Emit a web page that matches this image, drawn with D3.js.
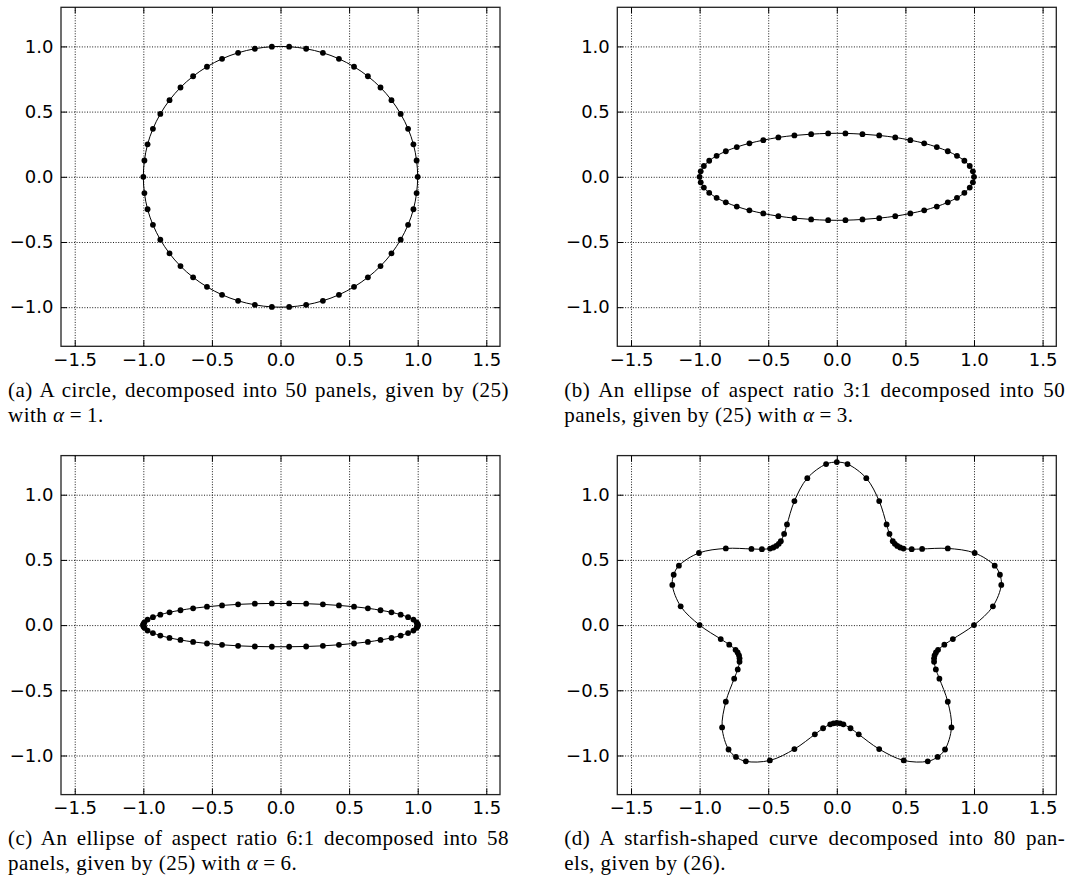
<!DOCTYPE html>
<html>
<head>
<meta charset="utf-8">
<title>Panel decompositions of four curves</title>
<script src="https://d3js.org/d3.v7.min.js"></script>
<style>
  body { margin: 0; background: #fff; }
</style>
</head>
<body>
<svg width="1070" height="876"></svg>
<script>
// tick values shared by all four panels
var xTicks = [-1.5, -1.0, -0.5, 0.0, 0.5, 1.0, 1.5];
var yTicks = [-1.0, -0.5, 0.0, 0.5, 1.0];

// (a) circle, 50 panel end points
var circleX = [1.000, 0.992, 0.969, 0.930, 0.876, 0.809, 0.729, 0.637, 0.536, 0.426, 0.309, 0.187, 0.063,
  -0.063, -0.187, -0.309, -0.426, -0.536, -0.637, -0.729, -0.809, -0.876, -0.930, -0.969, -0.992,
  -1.000, -0.992, -0.969, -0.930, -0.876, -0.809, -0.729, -0.637, -0.536, -0.426, -0.309, -0.187, -0.063,
  0.063, 0.187, 0.309, 0.426, 0.536, 0.637, 0.729, 0.809, 0.876, 0.930, 0.969, 0.992];
var circleY = [0.000, 0.125, 0.249, 0.368, 0.482, 0.588, 0.685, 0.771, 0.844, 0.905, 0.951, 0.982, 0.998,
  0.998, 0.982, 0.951, 0.905, 0.844, 0.771, 0.685, 0.588, 0.482, 0.368, 0.249, 0.125,
  0.000, -0.125, -0.249, -0.368, -0.482, -0.588, -0.685, -0.771, -0.844, -0.905, -0.951, -0.982, -0.998,
  -0.998, -0.982, -0.951, -0.905, -0.844, -0.771, -0.685, -0.588, -0.482, -0.368, -0.249, -0.125];

// (b) ellipse 3:1, 50 panel end points
var ellipse3X = [1.000, 0.992, 0.969, 0.930, 0.876, 0.809, 0.729, 0.637, 0.536, 0.426, 0.309, 0.187, 0.063,
  -0.063, -0.187, -0.309, -0.426, -0.536, -0.637, -0.729, -0.809, -0.876, -0.930, -0.969, -0.992,
  -1.000, -0.992, -0.969, -0.930, -0.876, -0.809, -0.729, -0.637, -0.536, -0.426, -0.309, -0.187, -0.063,
  0.063, 0.187, 0.309, 0.426, 0.536, 0.637, 0.729, 0.809, 0.876, 0.930, 0.969, 0.992];
var ellipse3Y = [0.000, 0.042, 0.083, 0.123, 0.161, 0.196, 0.228, 0.257, 0.281, 0.302, 0.317, 0.327, 0.333,
  0.333, 0.327, 0.317, 0.302, 0.281, 0.257, 0.228, 0.196, 0.161, 0.123, 0.083, 0.042,
  0.000, -0.042, -0.083, -0.123, -0.161, -0.196, -0.228, -0.257, -0.281, -0.302, -0.317, -0.327, -0.333,
  -0.333, -0.327, -0.317, -0.302, -0.281, -0.257, -0.228, -0.196, -0.161, -0.123, -0.083, -0.042];

// (c) ellipse 6:1, 58 panel end points (refined at both ends)
var ellipse6X = [1.000, 1.000, 0.998, 0.992, 0.969, 0.930, 0.876, 0.809, 0.729, 0.637, 0.536, 0.426, 0.309, 0.187, 0.063,
  -0.063, -0.187, -0.309, -0.426, -0.536, -0.637, -0.729, -0.809, -0.876, -0.930, -0.969, -0.992, -0.998, -1.000,
  -1.000, -1.000, -0.998, -0.992, -0.969, -0.930, -0.876, -0.809, -0.729, -0.637, -0.536, -0.426, -0.309, -0.187, -0.063,
  0.063, 0.187, 0.309, 0.426, 0.536, 0.637, 0.729, 0.809, 0.876, 0.930, 0.969, 0.992, 0.998, 1.000];
var ellipse6Y = [0.000, 0.005, 0.010, 0.021, 0.042, 0.061, 0.080, 0.098, 0.114, 0.129, 0.141, 0.151, 0.159, 0.164, 0.166,
  0.166, 0.164, 0.159, 0.151, 0.141, 0.129, 0.114, 0.098, 0.080, 0.061, 0.042, 0.021, 0.010, 0.005,
  0.000, -0.005, -0.010, -0.021, -0.042, -0.061, -0.080, -0.098, -0.114, -0.129, -0.141, -0.151, -0.159, -0.164, -0.166,
  -0.166, -0.164, -0.159, -0.151, -0.141, -0.129, -0.114, -0.098, -0.080, -0.061, -0.042, -0.021, -0.010, -0.005];

// (d) starfish, 80 panel end points (refined at the tips and the inner corners)
var starX = [0.000, -0.078, -0.215, -0.309, -0.363, -0.384, -0.408, -0.423, -0.441, -0.462, -0.486, -0.546, -0.622, -0.809, -1.005, -1.151,
  -1.189, -1.199, -1.138, -1.000, -0.846, -0.784, -0.738, -0.723, -0.713, -0.709, -0.709, -0.722, -0.748, -0.809, -0.836, -0.789,
  -0.735, -0.663, -0.488, -0.309, -0.160, -0.100, -0.048, -0.024, 0.000, 0.024, 0.048, 0.100, 0.160, 0.309, 0.488, 0.663,
  0.735, 0.789, 0.836, 0.809, 0.748, 0.722, 0.709, 0.709, 0.713, 0.723, 0.738, 0.784, 0.846, 1.000, 1.138, 1.199,
  1.189, 1.151, 1.005, 0.809, 0.622, 0.546, 0.486, 0.462, 0.441, 0.423, 0.408, 0.384, 0.363, 0.309, 0.215, 0.078];
var starY = [1.250, 1.235, 1.127, 0.951, 0.772, 0.699, 0.644, 0.623, 0.607, 0.595, 0.587, 0.582, 0.584, 0.588, 0.553, 0.456,
  0.386, 0.308, 0.144, 0.000, -0.107, -0.150, -0.190, -0.210, -0.232, -0.255, -0.281, -0.340, -0.411, -0.588, -0.785, -0.954,
  -1.011, -1.045, -1.038, -0.951, -0.838, -0.791, -0.761, -0.753, -0.750, -0.753, -0.761, -0.791, -0.838, -0.951, -1.038, -1.045,
  -1.011, -0.954, -0.785, -0.588, -0.411, -0.340, -0.281, -0.255, -0.232, -0.210, -0.190, -0.150, -0.107, 0.000, 0.144, 0.308,
  0.386, 0.456, 0.553, 0.588, 0.584, 0.582, 0.587, 0.595, 0.607, 0.623, 0.644, 0.699, 0.772, 0.951, 1.127, 1.235];

var captionFirst = [
  "(a) A circle, decomposed into 50 panels, given by (25)",
  "(b) An ellipse of aspect ratio 3:1 decomposed into 50",
  "(c) An ellipse of aspect ratio 6:1 decomposed into 58",
  "(d) A starfish-shaped curve decomposed into 80 pan-"
];
var captionSecond = [
  "with α = 1.",
  "panels, given by (25) with α = 3.",
  "panels, given by (25) with α = 6.",
  "els, given by (26)."
];

// layout
var panelW = 439, panelH = 339;
var lefts = [61, 617.3], tops = [7.3, 455.6];
var captionLeft = [8, 564.3], captionWidth = 501;
var captionBase = 397 - 7.3, lineGap = 24.5;
var tickFont = "'DejaVu Sans', sans-serif", serifFont = "'Liberation Serif', 'DejaVu Serif', serif";

var panels = [
  {xs: circleX, ys: circleY, col: 0, row: 0},
  {xs: ellipse3X, ys: ellipse3Y, col: 1, row: 0},
  {xs: ellipse6X, ys: ellipse6Y, col: 0, row: 1},
  {xs: starX, ys: starY, col: 1, row: 1}
];

var svg = d3.select("svg");
svg.append("rect").attr("width", 1070).attr("height", 876).attr("fill", "#fff");

var fmt = d3.format(".1f");

panels.forEach(function(p, i) {
  var left = lefts[p.col], top = tops[p.row];
  var x = d3.scaleLinear().domain([-1.6, 1.6]).range([left, left + panelW]);
  var y = d3.scaleLinear().domain([-1.3, 1.3]).range([top + panelH, top]);
  var g = svg.append("g");

  // dotted grid
  var gx = g.append("g").attr("transform", "translate(0," + (top + panelH) + ")")
    .call(d3.axisBottom(x).tickValues(xTicks).tickSize(-panelH).tickFormat(""));
  var gy = g.append("g").attr("transform", "translate(" + left + ",0)")
    .call(d3.axisLeft(y).tickValues(yTicks).tickSize(-panelW).tickFormat(""));
  [gx, gy].forEach(function(a) {
    a.select(".domain").remove();
    a.selectAll("line").attr("stroke", "#000").attr("stroke-width", 0.9).attr("stroke-dasharray", "1,1.6");
  });

  // curve through the points
  var pts = d3.zip(p.xs, p.ys);
  var line = d3.line()
    .x(function(d) { return x(d[0]); })
    .y(function(d) { return y(d[1]); })
    .curve(d3.curveCatmullRomClosed.alpha(0.5));
  g.append("path").datum(pts)
    .attr("fill", "none").attr("stroke", "#000").attr("stroke-width", 1)
    .attr("d", line);
  g.selectAll("circle").data(pts).enter().append("circle")
    .attr("cx", function(d) { return x(d[0]); })
    .attr("cy", function(d) { return y(d[1]); })
    .attr("r", 2.9).attr("fill", "#000");

  // frame
  g.append("rect").attr("x", left).attr("y", top).attr("width", panelW).attr("height", panelH)
    .attr("fill", "none").attr("stroke", "#222").attr("stroke-width", 1.3);

  // inward ticks on all four sides
  var axes = [
    g.append("g").attr("transform", "translate(0," + (top + panelH) + ")")
      .call(d3.axisBottom(x).tickValues(xTicks).tickSize(-6).tickPadding(6.5).tickFormat(fmt)),
    g.append("g").attr("transform", "translate(0," + top + ")")
      .call(d3.axisTop(x).tickValues(xTicks).tickSize(-6).tickFormat("")),
    g.append("g").attr("transform", "translate(" + left + ",0)")
      .call(d3.axisLeft(y).tickValues(yTicks).tickSize(-6).tickPadding(7.5).tickFormat(fmt)),
    g.append("g").attr("transform", "translate(" + (left + panelW) + ",0)")
      .call(d3.axisRight(y).tickValues(yTicks).tickSize(-6).tickFormat(""))
  ];
  axes.forEach(function(a) {
    a.select(".domain").remove();
    a.selectAll("line").attr("stroke", "#000").attr("stroke-width", 1);
    a.selectAll("text")
      .style("font-family", tickFont)
      .style("font-size", "18px")
      .attr("fill", "#000");
  });

  // caption, first line justified to the subfigure width
  var cx = captionLeft[p.col], cy = top + captionBase;
  var t1 = svg.append("text").attr("x", cx).attr("y", cy)
    .style("font-family", serifFont).style("font-size", "21px").style("letter-spacing", "0.5px")
    .text(captionFirst[i]);
  var spaces = captionFirst[i].split(" ").length - 1;
  var extra = captionWidth - t1.node().getComputedTextLength();
  t1.style("word-spacing", (extra / spaces) + "px");

  // second line, with math-style spacing around the equals sign
  var t2 = svg.append("text").attr("x", cx).attr("y", cy + lineGap)
    .style("font-family", serifFont).style("font-size", "21px").style("letter-spacing", "0.5px");
  var parts = captionSecond[i].split("α = ");
  t2.append("tspan").text(parts[0]);
  if (parts.length > 1) {
    t2.append("tspan").style("font-style", "italic").text("α");
    t2.append("tspan").attr("dx", 5).text("=");
    t2.append("tspan").attr("dx", 5).text(parts[1]);
  }
});
</script>
</body>
</html>
